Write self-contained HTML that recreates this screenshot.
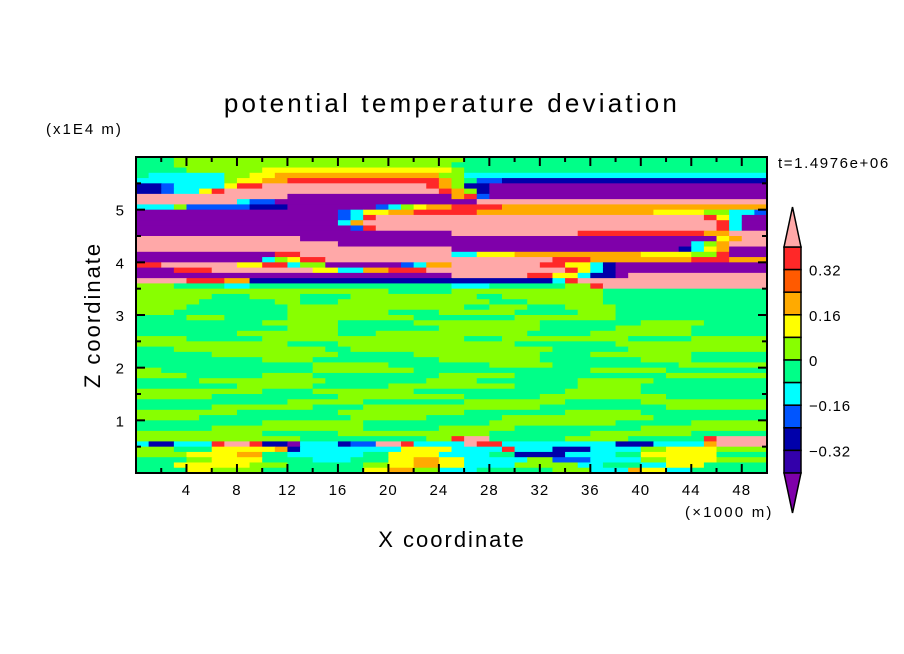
<!DOCTYPE html>
<html><head><meta charset="utf-8">
<style>
html,body{margin:0;padding:0;background:#fff;}
svg{display:block;font-family:"Liberation Sans",sans-serif;}
</style></head>
<body>
<svg id="chart" width="904" height="654" viewBox="0 0 904 654" xmlns="http://www.w3.org/2000/svg">
<defs><clipPath id="plotclip"><rect x="136" y="157" width="631" height="316"/></clipPath></defs>
<rect width="904" height="654" fill="#fff"/>
<text x="452" y="112" font-size="26" text-anchor="middle" letter-spacing="3.2">potential temperature deviation</text>
<text x="46" y="134" font-size="15" letter-spacing="2">(x1E4 m)</text>
<text x="778" y="168" font-size="15" letter-spacing="1.6">t=1.4976e+06</text>
<text x="685" y="517" font-size="15" letter-spacing="2.2">(×1000 m)</text>
<text x="452" y="547" font-size="22" text-anchor="middle" letter-spacing="2">X coordinate</text>
<text x="0" y="0" font-size="22" text-anchor="middle" letter-spacing="2" transform="translate(100,315) rotate(-90)">Z coordinate</text>
<g id="field" clip-path="url(#plotclip)"></g>
<g id="axes"></g>
<g id="cbar"></g>
</svg>
<script>
// level codes -> colours
const levelCodes = ["V","i","n","b","c","e","g","y","a","o","r","P"];
const levelColors = ["#7f00aa","#3300aa","#0000aa","#0055ff","#00ffff","#00ff88","#88ff00","#ffff00","#ffaa00","#ff5a00","#ff2828","#ffa8a8"];
const colorbarLabels = ["0.32","0.16","0","-0.16","-0.32"];
const colorbarLabelValues = [0.32,0.16,0,-0.16,-0.32];
const xTicks = [4,8,12,16,20,24,28,32,36,40,44,48];
const yTicks = [1,2,3,4,5];
// field rows (top z=6 down to z=0, 0.1 per row), run-length coded over 50 columns of 1 (x1000 m)
const fieldRows = [
"e3 g23 e24","e3 g22 e25","e4 g6 y15 g1 e24","e1 c6 g2 y2 a13 g2 c24",
"c7 g1 y2 a2 r12 a1 g1 e1 b2 n21","n2 b1 c4 y1 r2 P13 r1 a1 g1 n2 V22",
"n2 b1 c2 y1 r1 P17 r1 a1 g1 n1 V22","P12 V13 a1 r1 b1 V22",
"P8 c1 b2 V16 P23","c3 g1 b5 n3 V7 b1 c1 g1 y1 a2 r4 a21",
"V16 b1 c1 y2 a2 r3 r2 a14 y4 g2 c2 b1","V16 b1 c1 r1 P26 r1 y1 c1 V2",
"V16 c1 a1 P28 r1 c1 V2","V17 b1 r1 P27 r1 c1 V2","V25 P10 r10 a2 P3",
"P13 V33 y1 a1 P2","P16 V28 c1 g1 a1 P3","P25 V18 n1 c1 y1 a1 V3",
"V11 r2 P12 c2 y3 a10 y4 g2 r1 V3","V10 c1 g1 y1 r2 P10 P8 r3 a8 r3 a3",
"r2 P6 y2 r2 c1 g2 V6 b1 c1 a2 P7 r2 y2 c1 n1 V12","V3 r3 P8 y2 c2 a2 r3 P2 P9 r1 y1 c1 n1 V12",
"V25 P6 r2 y2 c1 n2 V1 P11","P4 r3 a2 n16 n8 c1 r1 P15","g3 e4 c2 e16 c3 e6 g2 r1 P13",
"g20 e5 g12 e13","g6 e3 g4 e4 g10 e2 g8 e13","g5 e6 g2 e3 g12 e3 g6 e13",
"g4 e8 g14 e2 g3 e3 g4 e12","g3 e9 g8 e4 g6 e5 g3 e12","e4 g3 e5 g10 e8 g8 e12",
"e10 g6 e6 g10 e8 g5 e5","e12 g4 e8 g8 e6 g6 e6","e8 g8 e3 g12 e5 g8 e6",
"g4 e6 g16 e3 g10 e5 g6","g12 e4 g14 e8 g12","e3 g12 e2 g16 e6 g11",
"e6 g10 e6 g10 e4 g8 e6","e10 g4 e10 g8 e8 g4 e6","e14 g6 e8 g5 e10 g7",
"g2 e12 g8 e14 g6 e8","g4 e6 g4 e10 g6 e12 g8","e5 g10 e8 g4 e8 g6 e9",
"e8 g6 e6 g10 e5 g5 e10","g10 e4 g8 e12 g6 e10","g6 e10 g10 e6 g10 e8",
"e12 g6 e8 g8 e6 g10","e6 g8 e4 g14 e10 g8","g8 e8 g10 e8 g6 e10",
"g5 e12 g6 e6 g12 e9","e10 g8 e10 g10 e6 g6","e6 g12 e6 g6 e10 g10",
"g10 e6 g12 e8 g8 e6","g13 e10 g2 r1 P2 e6 g5 e6 r1 P4",
"c1 n2 c3 r1 P2 r1 n2 V1 c3 n1 b2 P2 r1 c4 P1 r2 c9 n3 c4 a1 P4",
"g3 e3 y5 a1 n1 c8 y4 c4 r1 c3 n3 c4 g2 y4 g4",
"g4 y4 a2 e2 c6 e2 y4 c4 e2 n4 c4 e2 y6 e4",
"e4 g2 y4 e4 c3 e3 y2 a2 y2 c5 g2 b3 c4 g2 y4 g4",
"e3 y6 g3 e6 g2 y2 a2 y2 c4 g5 c2 e3 c2 y3 e5",
"e4 y2 g4 e8 y2 a2 g2 c3 e6 g3 c3 a1 y2 c2 e6"
];

const NS="http://www.w3.org/2000/svg";
const PX0=136, PX1=767, PY0=157, PY1=473;
const XMAX=50, ZMAX=6;
function xScale(v){return PX0+(v/XMAX)*(PX1-PX0);}
function zScale(v){return PY1-(v/ZMAX)*(PY1-PY0);}
function mk(tag,attrs,parent){const e=document.createElementNS(NS,tag);for(const k in attrs)e.setAttribute(k,attrs[k]);parent.appendChild(e);return e;}

const field=document.getElementById('field');
const nRows=fieldRows.length;
const dz=ZMAX/nRows;
fieldRows.forEach((row,r)=>{
  const zTop=ZMAX-r*dz, zBot=zTop-dz;
  let col=0;
  row.trim().split(/\s+/).forEach(tok=>{
    const code=tok[0], n=parseInt(tok.slice(1),10);
    const idx=levelCodes.indexOf(code);
    const x0=xScale(col), x1=xScale(col+n);
    const y0=zScale(zTop), y1=zScale(zBot);
    const rc=mk('rect',{x:x0.toFixed(2),y:y0.toFixed(2),width:(x1-x0+0.6).toFixed(2),height:(y1-y0+0.6).toFixed(2),fill:levelColors[idx]},field);
    
    
    col+=n;
  });
});

const axes=document.getElementById('axes');
const frame=mk('rect',{x:PX0,y:PY0,width:PX1-PX0,height:PY1-PY0,fill:'none',stroke:'#000','stroke-width':2},axes);


for(let v=2;v<XMAX;v+=2){
  const major=xTicks.indexOf(v)>=0;const L=major?9:5;const x=xScale(v);
  const t1=mk('line',{x1:x,x2:x,y1:PY1,y2:PY1-L,stroke:'#000','stroke-width':2},axes);
  
  
  const t2=mk('line',{x1:x,x2:x,y1:PY0,y2:PY0+L,stroke:'#000','stroke-width':2},axes);
  
  
}
xTicks.forEach(v=>{
  const t=mk('text',{x:xScale(v),y:PY1+22,'font-size':15,'text-anchor':'middle','letter-spacing':1},axes);
  t.textContent=String(v);
  
  
});
for(let v=0.5;v<ZMAX;v+=0.5){
  const major=yTicks.indexOf(v)>=0;const L=major?9:5;const y=zScale(v);
  const t1=mk('line',{x1:PX0,x2:PX0+L,y1:y,y2:y,stroke:'#000','stroke-width':2},axes);
  
  
  const t2=mk('line',{x1:PX1,x2:PX1-L,y1:y,y2:y,stroke:'#000','stroke-width':2},axes);
  
  
}
yTicks.forEach(v=>{
  const t=mk('text',{x:PX0-12,y:zScale(v)+6,'font-size':15,'text-anchor':'end'},axes);
  t.textContent=String(v);
  
  
});

// colorbar
const cb=document.getElementById('cbar');
const CX0=784, CX1=801, CTOP=247, CBOT=473;
const nBox=10, bh=(CBOT-CTOP)/nBox;
function cbScale(v){return CTOP+(0.40-v)/0.08*bh;}
for(let i=0;i<nBox;i++){
  const colorIdx=10-i;
  const b=mk('rect',{x:CX0,y:CTOP+i*bh,width:CX1-CX0,height:bh,fill:levelColors[colorIdx],stroke:'#000','stroke-width':1.5},cb);
  
  
}
const tu=mk('polygon',{points:`${CX0},${CTOP} ${CX1},${CTOP} ${(CX0+CX1)/2},${CTOP-40}`,fill:levelColors[11],stroke:'#000','stroke-width':1.5},cb);


const td=mk('polygon',{points:`${CX0},${CBOT} ${CX1},${CBOT} ${(CX0+CX1)/2},${CBOT+40}`,fill:levelColors[0],stroke:'#000','stroke-width':1.5},cb);


colorbarLabels.forEach((s,i)=>{
  const t=mk('text',{x:809,y:cbScale(colorbarLabelValues[i])+6,'font-size':15,'letter-spacing':0.8},cb);
  t.textContent=s.replace('-','\u2212');
  
  
});
</script>
</body></html>
